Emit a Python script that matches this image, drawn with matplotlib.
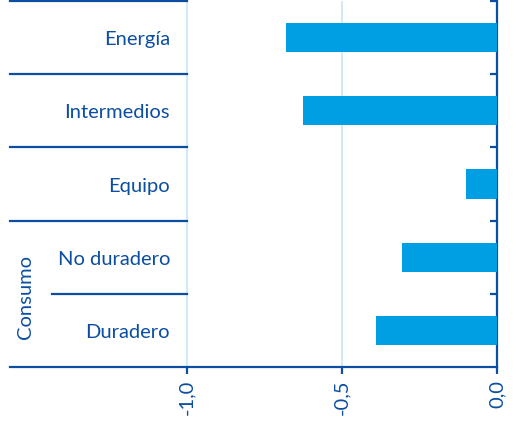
import numpy as np
from matplotlib import pyplot as plt

# Datos
categorias = ["Energía", "Intermedios", "Equipo", "No duradero", "Duradero"]
valores = [-0.68, -0.625, -0.10, -0.305, -0.39]
ticks_x = [-1.0, -0.5, 0.0]
etiquetas_x = ["-1,0", "-0,5", "0,0"]
grupo = "Consumo"

AZUL = "#0B4EA2"
CELESTE = "#009FE3"
REJILLA = "#C6E7F5"

plt.rcParams["font.family"] = ["Lato", "DejaVu Sans"]

fig = plt.figure(figsize=(5.18, 4.29), dpi=100)
ax = fig.add_axes([10/518, 1 - 367/429, 487/518, 366/429])

xmin = (10 - 497) / 310
pos = np.arange(len(categorias))
ax.barh(pos, valores, height=0.4, color=CELESTE, zorder=3)
ax.set_xlim(xmin, 0)
ax.set_ylim(len(categorias) - 0.5, -0.5)

# rejilla vertical solo en la zona del grafico
for t in ticks_x[:-1]:
    ax.axvline(t, color=REJILLA, lw=1.2, zorder=1)

# separadores de categorias
for b in [-0.5, 0.5, 1.5, 2.5]:
    ax.plot([xmin, -1.0], [b, b], color=AZUL, lw=1.6, clip_on=False, zorder=4)
ax.plot([(52 - 497) / 310, -1.0], [3.5, 3.5], color=AZUL, lw=1.6, zorder=4)

# etiquetas
for p, c in zip(pos, categorias):
    ax.text((170 - 497) / 310, p + 0.03, c, ha="right", va="center", fontsize=14.5, color=AZUL)
ax.text((25 - 497) / 310, 3.55, grupo, rotation=90, ha="center", va="center",
        fontsize=14.5, color=AZUL)

# ejes
for s in ["left", "top"]:
    ax.spines[s].set_visible(False)
for s in ["bottom", "right"]:
    ax.spines[s].set_color(AZUL)
    ax.spines[s].set_linewidth(1.6)

ax.set_xticks(ticks_x)
ax.set_xticklabels(etiquetas_x, rotation=90, fontsize=14.5, color=AZUL)
ax.tick_params(axis="x", direction="out", length=5, width=1.6, color=AZUL, pad=4)

ax.yaxis.tick_right()
ax.set_yticks([-0.5, 0.5, 1.5, 2.5, 3.5])
ax.set_yticklabels([])
ax.tick_params(axis="y", direction="in", length=5, width=1.6, color=AZUL)

fig.savefig("out.png", dpi=100)
